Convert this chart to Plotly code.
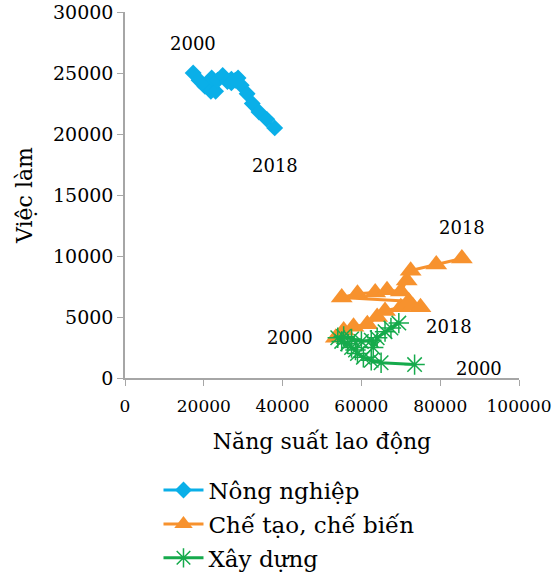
import plotly.graph_objects as go

years = list(range(2000, 2019))

# Nông nghiệp
agri_x = [17300, 18800, 20300, 21800, 23000, 22000, 23500, 24800, 26000, 27000,
          28000, 28700, 27000, 29500, 31000, 32300, 34000, 36000, 38000]
agri_y = [25000, 24400, 23900, 23500, 23500, 24600, 24400, 24800, 24300, 24500,
          24400, 24600, 24200, 24000, 23300, 22500, 21800, 21200, 20500]

# Chế tạo, chế biến
manu_x = [53500, 55500, 58000, 61500, 64000, 66000, 70000, 73000, 75000, 72000,
          55000, 59000, 63500, 66500, 70000, 71500, 72500, 79000, 85500]
manu_y = [3300, 3900, 4200, 4400, 5000, 5500, 5800, 5900, 5800, 6300,
          6600, 6900, 7000, 7200, 7100, 8000, 8800, 9300, 9800]

# Xây dựng
cons_x = [73500, 65000, 62500, 60500, 59000, 58500, 57500, 56500, 55000, 54000,
          55500, 57500, 60000, 62500, 63000, 64000, 66000, 67500, 69500]
cons_y = [1100, 1250, 1450, 1700, 2000, 2300, 2500, 2800, 3000, 3300,
          3400, 3200, 3000, 3100, 2500, 3300, 3800, 4100, 4500]

x_ticks = [0, 20000, 40000, 60000, 80000, 100000]
x_ticktext = ["0", "20000", "40000", "60000", "80000", "100000"]
y_ticks = [0, 5000, 10000, 15000, 20000, 25000, 30000]
y_ticktext = ["0", "5000", "10000", "15000", "20000", "25000", "30000"]

FONT = "DejaVu Serif"
BLUE = "#0AAFE8"
ORANGE = "#F7922E"
GREEN = "#16AA4C"

fig = go.Figure()
fig.add_trace(go.Scatter(x=agri_x, y=agri_y, mode="lines+markers", name="Nông nghiệp",
                         legendgroup="a",
                         line=dict(color=BLUE, width=3),
                         marker=dict(symbol="diamond", size=13, color=BLUE)))
fig.add_trace(go.Scatter(x=manu_x, y=manu_y, mode="lines+markers", name="Chế tạo, chế biến",
                         legendgroup="b",
                         line=dict(color=ORANGE, width=3),
                         marker=dict(symbol="triangle-up", size=19, color=ORANGE)))
fig.add_trace(go.Scatter(x=cons_x, y=cons_y, mode="lines+markers", name="Xây dựng",
                         legendgroup="c",
                         line=dict(color=GREEN, width=3),
                         marker=dict(symbol="asterisk-open", size=17,
                                     line=dict(color=GREEN, width=1.5))))

labels = [
    (agri_x[0], agri_y[0], "2000", 0, 30),
    (agri_x[-1], agri_y[-1], "2018", 0, -38),
    (manu_x[-1], manu_y[-1], "2018", 0, 31),
    (manu_x[0], manu_y[0], "2000", -46, 0),
    (cons_x[-1], cons_y[-1], "2018", 50, -3),
    (cons_x[0], cons_y[0], "2000", 64, -4),
]
for lx, ly, t, xs, ys in labels:
    fig.add_annotation(x=lx, y=ly, text=t, showarrow=False, xshift=xs, yshift=ys,
                       font=dict(family=FONT, size=18, color="black"))

axis_common = dict(showgrid=False, zeroline=False, showline=True, linecolor="#a6a6a6",
                   linewidth=1.5, ticks="outside", tickcolor="#a6a6a6", ticklen=6,
                   automargin=False, ticklabeloverflow="allow")
fig.update_xaxes(range=[0, 100000], tickvals=x_ticks, ticktext=x_ticktext,
                 tickfont=dict(family=FONT, size=17, color="black"),
                 ticklabelstandoff=6,
                 title=dict(text="Năng suất lao động", font=dict(family=FONT, size=22, color="black"),
                            standoff=18),
                 **axis_common)
fig.update_yaxes(range=[0, 30000], tickvals=y_ticks, ticktext=y_ticktext,
                 tickfont=dict(family=FONT, size=19, color="black"),
                 title=dict(text="Việc làm", font=dict(family=FONT, size=22, color="black"),
                            standoff=14),
                 **axis_common)
fig.update_yaxes(automargin="left")

fig.update_layout(
    width=552, height=579,
    margin=dict(l=125, r=33, t=12, b=201),
    plot_bgcolor="white", paper_bgcolor="white",
    font=dict(family=FONT, color="black"),
    legend=dict(orientation="v", x=0.085, xanchor="left",
                yref="container", y=0.1908, yanchor="top",
                font=dict(family=FONT, size=23, color="black"),
                tracegroupgap=1,
                itemwidth=40, bgcolor="rgba(0,0,0,0)"),
    showlegend=True,
)

fig.write_html("out.html", config={"displayModeBar": False},
               post_script="document.body.style.margin='0px';")
